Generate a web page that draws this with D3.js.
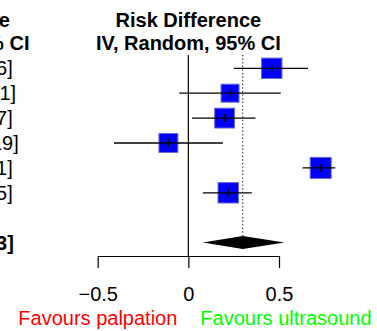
<!DOCTYPE html>
<html>
<head>
<meta charset="utf-8">
<script src="https://cdn.jsdelivr.net/npm/d3@7"></script>
<style>
    body { margin: 0; background: #fff; }
    svg { display: block; font-family: "Liberation Sans", Arial, Helvetica, sans-serif; }
</style>
</head>
<body>
<svg id="chart"></svg>
<script>
    "use strict"
    const width = 377;
    const height = 331;

    // study rows
    const estimates = [0.46, 0.23, 0.20, -0.11, 0.73, 0.22];
    const lowers = [0.25, -0.05, 0.02, -0.41, 0.63, 0.08];
    const uppers = [0.66, 0.51, 0.37, 0.19, 0.81, 0.35];
    const weights = [17.5, 13.5, 16.5, 15.0, 18.5, 17.5];

    // pooled estimate
    const pooled = [0.30, 0.08, 0.53];

    const headerLines = ["Risk Difference", "IV, Random, 95% CI"];
    const tickValues = [-0.5, 0, 0.5];
    const favourLabels = ["Favours palpation", "Favours ultrasound"];

    const svg = d3.select("#chart")
        .attr("width", width)
        .attr("height", height);

    const x = d3.scaleLinear()
        .domain([-0.5, 0.5])
        .range([97.7, 279]);

    // row index -> y, 6 studies, one blank row, then total
    const y = d3.scaleLinear()
        .domain([0, 7])
        .range([68.3, 242.6]);

    const side = d3.scaleSqrt()
        .domain([0, d3.max(weights)])
        .range([0, 21]);

    const fmt = v => d3.format(".2f")(v).replace("\u2212", "-");
    const ciText = (e, l, u) => `${fmt(e)} [${fmt(l)}, ${fmt(u)}]`;

    const studies = estimates.map((e, i) => ({ i, e, l: lowers[i], u: uppers[i], w: weights[i] }));

    // headers
    const headerCenters = [-63, x(0)];
    headerCenters.forEach(cx => {
        svg.append("g").selectAll("text")
            .data(headerLines)
            .join("text")
            .attr("x", cx)
            .attr("y", (d, i) => 26.5 + i * 23)
            .attr("text-anchor", "middle")
            .attr("font-size", 20)
            .attr("font-weight", "bold")
            .text(d => d);
    });

    // CI text column (mostly cut off at the left edge)
    svg.append("g").selectAll("text")
        .data(studies)
        .join("text")
        .attr("x", -59.5)
        .attr("y", d => y(d.i) + 7)
        .attr("text-anchor", "middle")
        .attr("font-size", 20)
        .text(d => ciText(d.e, d.l, d.u));

    svg.append("text")
        .attr("x", -59.5)
        .attr("y", y(7) + 7)
        .attr("text-anchor", "middle")
        .attr("font-size", 20)
        .attr("font-weight", "bold")
        .text(ciText(pooled[0], pooled[1], pooled[2]));

    // zero line
    svg.append("line")
        .attr("x1", x(0)).attr("x2", x(0))
        .attr("y1", 55).attr("y2", 256)
        .attr("stroke", "#000")
        .attr("stroke-width", 1.2);

    // pooled dotted line
    svg.append("line")
        .attr("x1", x(pooled[0])).attr("x2", x(pooled[0]))
        .attr("y1", 55).attr("y2", y(7) - 6.5)
        .attr("stroke", "#000")
        .attr("stroke-width", 1)
        .attr("stroke-dasharray", "1.2,2.4");

    // squares
    const rows = svg.append("g").selectAll("g")
        .data(studies)
        .join("g");

    rows.append("rect")
        .attr("x", d => x(d.e) - side(d.w) / 2)
        .attr("y", d => y(d.i) - side(d.w) / 2)
        .attr("width", d => side(d.w))
        .attr("height", d => side(d.w))
        .attr("fill", "#0000ff")
        .attr("stroke", "#6a6ad0")
        .attr("stroke-width", 1);

    rows.append("line")
        .attr("x1", d => x(d.l))
        .attr("x2", d => x(d.u))
        .attr("y1", d => y(d.i))
        .attr("y2", d => y(d.i))
        .attr("stroke", "#000")
        .attr("stroke-width", 1.3);

    rows.append("line")
        .attr("x1", d => x(d.e))
        .attr("x2", d => x(d.e))
        .attr("y1", d => y(d.i) - 4)
        .attr("y2", d => y(d.i) + 4)
        .attr("stroke", "#000")
        .attr("stroke-width", 1.3);

    // pooled diamond
    const dy = y(7);
    svg.append("path")
        .attr("d", d3.line()([
            [x(pooled[1]), dy],
            [x(pooled[0]), dy - 6.5],
            [x(pooled[2]), dy],
            [x(pooled[0]), dy + 6.5]
        ]) + "Z")
        .attr("fill", "#000");

    // axis
    const axis = svg.append("g")
        .attr("transform", "translate(0,256)")
        .call(d3.axisBottom(x)
            .tickValues(tickValues)
            .tickFormat(d3.format(".1~f"))
            .tickSize(12)
            .tickSizeOuter(0)
            .tickPadding(18.5));
    axis.select(".domain").attr("stroke-width", 1.2);
    axis.selectAll(".tick line").attr("stroke-width", 1.2);
    axis.selectAll(".tick text")
        .attr("font-size", 20)
        .attr("font-family", "Liberation Sans, Arial, sans-serif");

    // favours labels
    svg.append("text")
        .attr("x", x(0) - 11)
        .attr("y", 325)
        .attr("text-anchor", "end")
        .attr("font-size", 20)
        .attr("fill", "#ff0000")
        .text(favourLabels[0]);

    svg.append("text")
        .attr("x", x(0) + 12)
        .attr("y", 325)
        .attr("text-anchor", "start")
        .attr("font-size", 20)
        .attr("fill", "#00ff00")
        .text(favourLabels[1]);
</script>
</body>
</html>
